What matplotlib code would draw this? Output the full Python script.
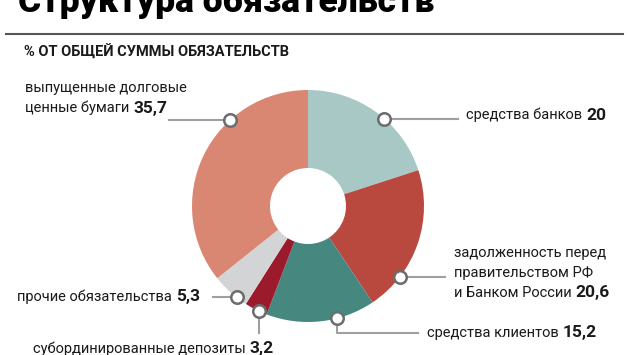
import numpy as np
import matplotlib
matplotlib.use('Agg')
import matplotlib.pyplot as plt

W, H = 630, 355

labels = ['средства банков',
          'задолженность перед\nправительством РФ\nи Банком России',
          'средства клиентов',
          'субординированные депозиты',
          'прочие обязательства',
          'выпущенные долговые\nценные бумаги']
values = [20, 20.6, 15.2, 3.2, 5.3, 35.7]
colors = ['#a7c8c5', '#b9483f', '#468780', '#9b1b2d', '#d3d4d5', '#d98772']

title = 'Структура обязательств'
subtitle = '% ОТ ОБЩЕЙ СУММЫ ОБЯЗАТЕЛЬСТВ'

# layout (pixels): where on the wedge the dot sits, leader end, text start
cx, cy, R = 308, 206, 116
dot_frac = [0.57, 0.75, 0.35, 0.36, 0.29, 0.67]
leader = [('h', 458), ('h', 445), ('vh', 333, 418), ('v', 333), ('h', 213), ('h', 169)]
text_pos = [(466, 115), (454, 293), (427, 333), (33, 349), (17, 297), (25, 108)]
line_gap = 20

fam = ['Roboto', 'DejaVu Sans']
plt.rcParams['font.family'] = fam

fig = plt.figure(figsize=(W / 100, H / 100), dpi=100)
fig.patch.set_facecolor('white')

ax = fig.add_axes([(cx - R) / W, (H - cy - R) / H, 2 * R / W, 2 * R / H])
wedges, _ = ax.pie(values, colors=colors, startangle=90, counterclock=False,
                   radius=1, wedgeprops=dict(width=1 - 38 / 116, linewidth=0))
ax.set_xlim(-1, 1)
ax.set_ylim(-1, 1)
ax.set_aspect('auto')
ax.axis('off')


def d(px, py):
    return (px - cx) / R, (cy - py) / R


line_col = '#9d9fa2'
for i, w in enumerate(wedges):
    ang = np.deg2rad(w.theta2 - dot_frac[i] * (w.theta2 - w.theta1))
    mx, my = np.cos(ang), np.sin(ang)
    lay = leader[i]
    if lay[0] == 'h':
        ex, _ = d(lay[1], 0)
        xs, ys = [mx, ex], [my, my]
    elif lay[0] == 'v':
        _, ey = d(0, lay[1])
        xs, ys = [mx, mx], [my, ey]
    else:
        _, ey = d(0, lay[1])
        ex, _ = d(lay[2], 0)
        xs, ys = [mx, mx, ex], [my, ey, ey]
    ax.plot(xs, ys, color=line_col, lw=1.5, clip_on=False, zorder=3)
    ax.plot([mx], [my], 'o', ms=9, mfc='white', mec='#6b6c6e', mew=1.8,
            clip_on=False, zorder=4)

    lines = labels[i].split('\n')
    tx, ty = text_pos[i]
    for k, ln in enumerate(lines):
        yy = ty - (len(lines) - 1 - k) * line_gap
        t = fig.text(tx / W, 1 - yy / H, ln, fontsize=10.5, color='#1a1a1a',
                     ha='left', va='center')
    num = ('%g' % values[i]).replace('.', ',')
    ax.annotate(num, xy=(1, 0.5), xycoords=t, xytext=(3, 0),
                textcoords='offset points', ha='left', va='center',
                fontsize=12.5, fontweight='bold', color='#1a1a1a')

# header
fig.text(18 / W, 1 - 12 / H, title, fontsize=25.5, fontweight='heavy',
         ha='left', va='baseline', color='black')
fig.add_artist(plt.Line2D([6 / W, 623 / W], [1 - 34 / H, 1 - 34 / H],
                          color='#555555', lw=1.5))
fig.text(24 / W, 1 - 52 / H, subtitle, fontsize=10.5, fontweight='bold',
         ha='left', va='center', color='#1a1a1a')

fig.savefig('out.png', dpi=100, facecolor='white')
